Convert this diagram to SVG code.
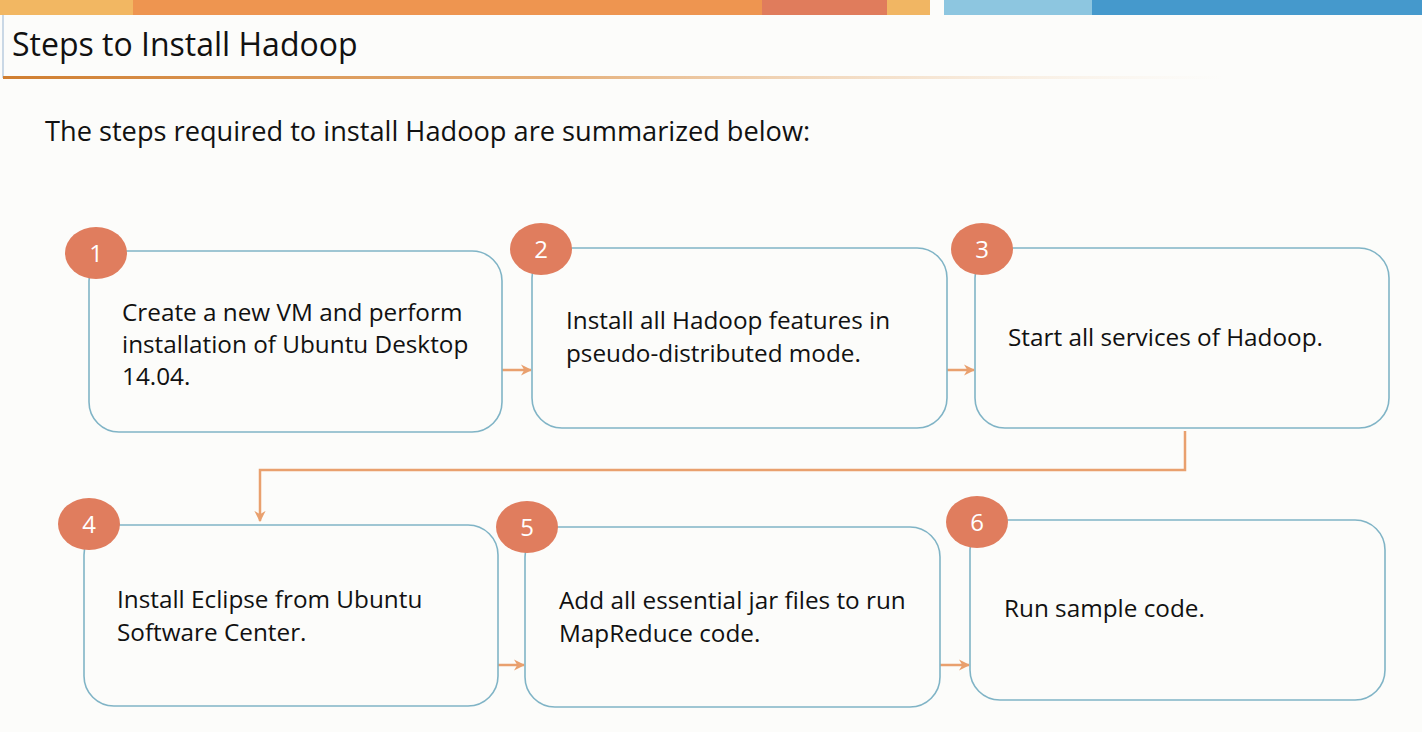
<svg xmlns="http://www.w3.org/2000/svg" width="1422" height="732" viewBox="0 0 1422 732">
<defs>
<linearGradient id="rule" x1="0" y1="0" x2="1" y2="0">
<stop offset="0" stop-color="#D07E30"/>
<stop offset="0.45" stop-color="#E0A060" stop-opacity="0.85"/>
<stop offset="1" stop-color="#F5D8B8" stop-opacity="0"/>
</linearGradient>
<marker id="ah" viewBox="0 0 10 10" refX="9" refY="5" markerWidth="4.5" markerHeight="4.5" orient="auto" markerUnits="strokeWidth">
<path d="M0,0 L10,5 L0,10 L3,5 Z" fill="#E9A06E"/>
</marker>
</defs>
<style>
.box{fill:none;stroke:#80B4C6;stroke-width:1.6}
.num{fill:#E07D5E}
.numt{font-family:"Open Sans","Liberation Sans",sans-serif;font-size:24px;fill:#ffffff;text-anchor:middle}
.t{font-family:"Open Sans","Liberation Sans",sans-serif;font-size:24.3px;fill:#111111}
.conn{fill:none;stroke:#E9A06E;stroke-width:2.5}
</style>
<rect width="1422" height="732" fill="#FCFCFA"/>
<!-- top bar -->
<rect x="0" y="0" width="133" height="15" fill="#F2B762"/>
<rect x="133" y="0" width="629" height="15" fill="#EE9550"/>
<rect x="762" y="0" width="125" height="15" fill="#E07C5C"/>
<rect x="887" y="0" width="43" height="15" fill="#F1B663"/>
<rect x="944" y="0" width="148" height="15" fill="#8DC6E0"/>
<rect x="1092" y="0" width="330" height="15" fill="#4599CC"/>
<line x1="3" y1="15" x2="3" y2="78" stroke="#A8C0D8" stroke-width="1.2"/>
<text x="12" y="56" font-family="'Open Sans','Liberation Sans',sans-serif" font-size="32" fill="#111111">Steps to Install Hadoop</text>
<rect x="3" y="76" width="1220" height="3" fill="url(#rule)"/>
<text x="45" y="141" font-family="'Open Sans','Liberation Sans',sans-serif" font-size="27.2" fill="#111111">The steps required to install Hadoop are summarized below:</text>

<g id="connectors">
<line class="conn" x1="502" y1="370" x2="531" y2="370" marker-end="url(#ah)"/>
<line class="conn" x1="947" y1="370" x2="974" y2="370" marker-end="url(#ah)"/>
<line class="conn" x1="498" y1="665" x2="524" y2="665" marker-end="url(#ah)"/>
<line class="conn" x1="940" y1="665" x2="969" y2="665" marker-end="url(#ah)"/>
<polyline class="conn" points="1185,431 1185,470 260,470 260,521" marker-end="url(#ah)"/>
</g>

<g id="node1">
<rect class="box" x="89" y="251" width="413" height="181" rx="30"/>
<ellipse class="num" cx="96" cy="253" rx="31" ry="26"/>
<text class="numt" x="96" y="262">1</text>
<text class="t" x="122" y="321">Create a new VM and perform</text>
<text class="t" x="122" y="353">installation of Ubuntu Desktop</text>
<text class="t" x="122" y="385">14.04.</text>
</g>
<g id="node2">
<rect class="box" x="532" y="248" width="415" height="180" rx="30"/>
<ellipse class="num" cx="541" cy="249" rx="31" ry="26"/>
<text class="numt" x="541" y="258">2</text>
<text class="t" x="566" y="329">Install all Hadoop features in</text>
<text class="t" x="566" y="362">pseudo-distributed mode.</text>
</g>
<g id="node3">
<rect class="box" x="975" y="248" width="414" height="180" rx="30"/>
<ellipse class="num" cx="982" cy="249" rx="31" ry="26"/>
<text class="numt" x="982" y="258">3</text>
<text class="t" x="1008" y="346">Start all services of Hadoop.</text>
</g>
<g id="node4">
<rect class="box" x="84" y="525" width="414" height="181" rx="30"/>
<ellipse class="num" cx="89" cy="524" rx="31" ry="26"/>
<text class="numt" x="89" y="533">4</text>
<text class="t" x="117" y="608">Install Eclipse from Ubuntu</text>
<text class="t" x="117" y="641">Software Center.</text>
</g>
<g id="node5">
<rect class="box" x="525" y="527" width="415" height="180" rx="30"/>
<ellipse class="num" cx="527" cy="527" rx="31" ry="26"/>
<text class="numt" x="527" y="536">5</text>
<text class="t" x="559" y="609">Add all essential jar files to run</text>
<text class="t" x="559" y="642">MapReduce code.</text>
</g>
<g id="node6">
<rect class="box" x="970" y="520" width="415" height="180" rx="30"/>
<ellipse class="num" cx="977" cy="522" rx="31" ry="26"/>
<text class="numt" x="977" y="531">6</text>
<text class="t" x="1004" y="617">Run sample code.</text>
</g>
</svg>
